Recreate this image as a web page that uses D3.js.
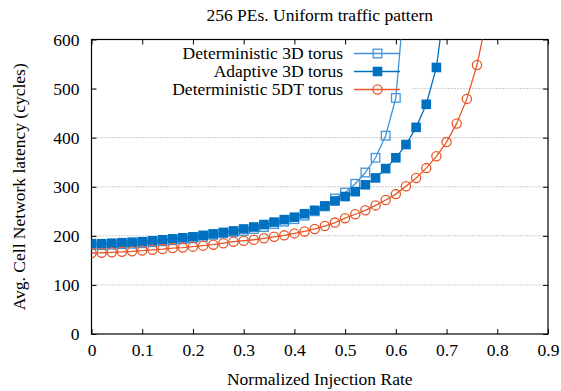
<!DOCTYPE html>
<html lang="en">
<head>
	<meta charset="UTF-8">
	<title>256 PEs. Uniform traffic pattern</title>
	<script src="https://d3js.org/d3.v7.min.js"></script>
	<style>
		body{ margin:0; background:#fff; }
		text{ font-family:"Liberation Serif","Times New Roman",serif; fill:#000; }
		.grid line{ stroke:#999; stroke-dasharray:1,2; stroke-width:1; }
		.line{ fill:none; stroke-width:1.3px; }
	</style>
</head>
<body>
	<script type="text/javascript">
		// injection rates (step 0.02)
		var rates = d3.range(0, 41).map(function(i){ return +(i * 0.02).toFixed(2); });

		var det3d = [181,181,182,183,184,185,187,189,191,193,195,198,202,205,208,210,214,218,224,229,
			234,241,250,260,276,288,306,329,359,404,481,720];
		var adapt3d = [184,184,185,186,187,188,190,192,194,196,198,201,204,207,210,214,218,223,228,233,
			238,245,252,261,271,280,290,304,318,337,359,386,421,468,543,700];
		var det5dt = [165,165.5,166.5,167.5,168.5,170,171.5,173,175,176,178,180,182,185,188,190,192,195,198,201,
			205,209,214,220,227,236,244,252,262,273,285,301,318,338,362,391,429,479,548,647];

		var xTicks = [0,0.1,0.2,0.3,0.4,0.5,0.6,0.7,0.8,0.9];
		var yTicks = [0,100,200,300,400,500,600];

		var series = [
			{name:"Deterministic 3D torus", values:det3d, color:"#3f95dc", marker:"open"},
			{name:"Adaptive 3D torus", values:adapt3d, color:"#0070c0", marker:"filled"},
			{name:"Deterministic 5DT torus", values:det5dt, color:"#e5582a", marker:"circle"}
		];

		var W = 561, H = 391, FS = "17.5px";
		var pL = 91.5, pR = 548, pT = 39.5, pB = 334;

		var x = d3.scaleLinear().domain([0, 0.9]).range([pL, pR]);
		var y = d3.scaleLinear().domain([0, 600]).range([pB, pT]);

		var svg = d3.select("body").append("svg")
			.attr("width", W).attr("height", H);

		svg.append("defs").append("clipPath").attr("id","clip")
			.append("rect").attr("x", pL).attr("y", pT)
			.attr("width", pR - pL).attr("height", pB - pT);

		// horizontal grid
		svg.append("g").attr("class","grid")
			.selectAll("line").data(yTicks.slice(1, -1)).enter().append("line")
			.attr("x1", pL).attr("x2", pR)
			.attr("y1", function(d){ return y(d); }).attr("y2", function(d){ return y(d); });

		// opaque key box
		svg.append("rect").attr("x", pL + 5).attr("y", pT + 4)
			.attr("width", 411 - pL - 5).attr("height", 56).attr("fill","#fff");

		// axes, ticks inward, mirrored
		svg.append("g").attr("transform","translate(0," + pB + ")")
			.call(d3.axisBottom(x).tickValues(xTicks).tickSize(-5).tickPadding(10).tickFormat(d3.format("")))
			.call(function(g){ g.select(".domain").remove(); });
		svg.append("g").attr("transform","translate(0," + pT + ")")
			.call(d3.axisTop(x).tickValues(xTicks).tickSize(-5).tickFormat(""))
			.call(function(g){ g.select(".domain").remove(); });
		svg.append("g").attr("transform","translate(" + pL + ",0)")
			.call(d3.axisLeft(y).tickValues(yTicks).tickSize(-5).tickPadding(12))
			.call(function(g){ g.select(".domain").remove(); });
		svg.append("g").attr("transform","translate(" + pR + ",0)")
			.call(d3.axisRight(y).tickValues(yTicks).tickSize(-5).tickFormat(""))
			.call(function(g){ g.select(".domain").remove(); });
		svg.selectAll(".tick text").style("font-family","Liberation Serif, serif").style("font-size", FS);
		svg.selectAll(".tick line").attr("stroke","#000");

		svg.append("rect").attr("x", pL).attr("y", pT)
			.attr("width", pR - pL).attr("height", pB - pT)
			.attr("fill","none").attr("stroke","#000").attr("stroke-width",1.2);

		function drawMarker(g, cx, cy, s){
			if (s.marker === "circle") {
				g.append("circle").attr("cx", cx).attr("cy", cy).attr("r", 4.6)
					.attr("fill","none").attr("stroke", s.color).attr("stroke-width",1.3);
			} else if (s.marker === "open") {
				g.append("rect").attr("x", cx - 4.3).attr("y", cy - 4.3).attr("width", 8.6).attr("height", 8.6)
					.attr("fill","none").attr("stroke", s.color).attr("stroke-width",1.3);
			} else {
				g.append("rect").attr("x", cx - 4.8).attr("y", cy - 4.8).attr("width", 9.6).attr("height", 9.6)
					.attr("fill", s.color);
			}
		}

		var line = d3.line()
			.x(function(d){ return x(d[0]); })
			.y(function(d){ return y(d[1]); });

		var plot = svg.append("g").attr("clip-path","url(#clip)");
		series.forEach(function(s){
			var pts = s.values.map(function(v, i){ return [rates[i], v]; });
			var g = plot.append("g");
			g.append("path").datum(pts).attr("class","line").attr("stroke", s.color).attr("d", line);
			pts.forEach(function(p){
				if (p[1] <= 600) drawMarker(g, x(p[0]), y(p[1]), s);
			});
		});

		// legend
		var key = svg.append("g");
		series.forEach(function(s, i){
			var ky = 53.5 + i * 18;
			key.append("text").attr("x", 343).attr("y", ky + 5.5).attr("text-anchor","end")
				.style("font-size", FS).text(s.name);
			key.append("line").attr("x1", 354).attr("x2", 400).attr("y1", ky).attr("y2", ky)
				.attr("stroke", s.color).attr("stroke-width",1.3);
			drawMarker(key, 377.5, ky, s);
		});

		// title and axis labels
		svg.append("text").attr("x", (pL + pR) / 2).attr("y", 21).attr("text-anchor","middle")
			.style("font-size", FS).text("256 PEs. Uniform traffic pattern");
		svg.append("text").attr("x", (pL + pR) / 2).attr("y", 385).attr("text-anchor","middle")
			.style("font-size", FS).text("Normalized Injection Rate");
		svg.append("text").attr("transform","translate(25," + ((pT + pB) / 2) + ") rotate(-90)")
			.attr("text-anchor","middle").style("font-size", FS).text("Avg. Cell Network latency (cycles)");
	</script>
</body>
</html>
